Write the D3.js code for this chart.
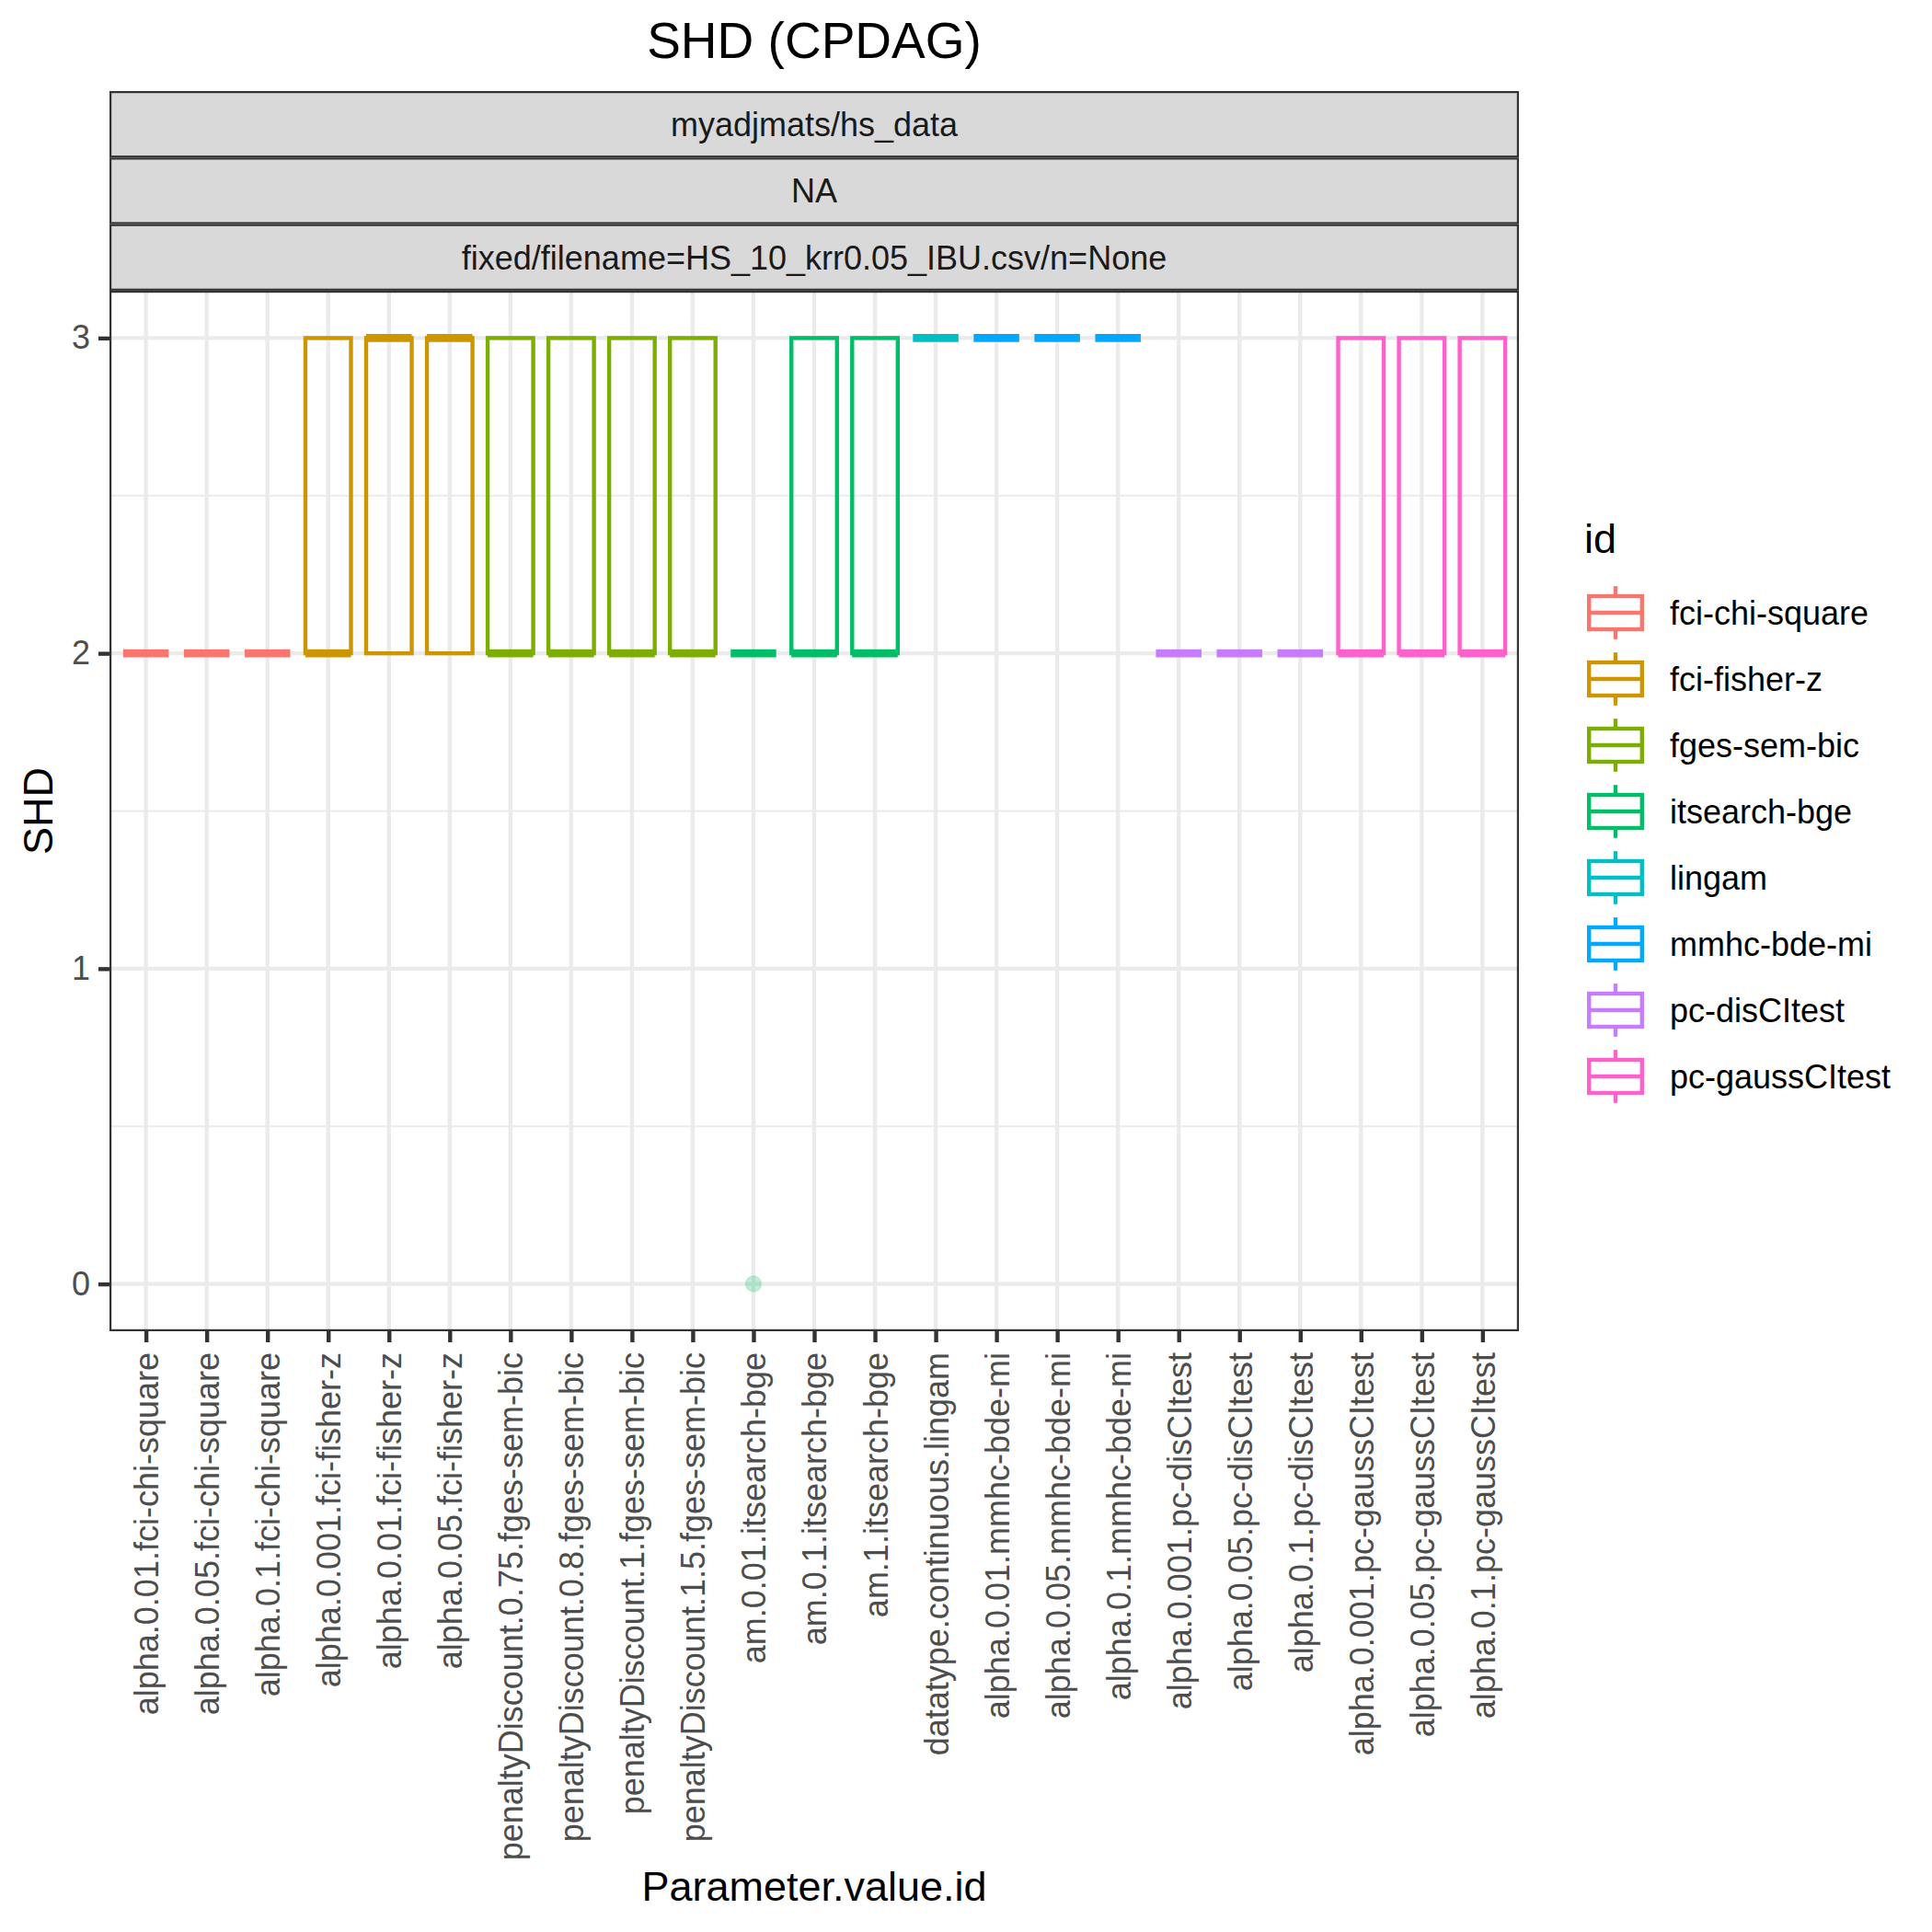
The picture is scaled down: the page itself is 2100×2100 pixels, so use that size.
<!DOCTYPE html>
<html>
<head>
<meta charset="utf-8">
<script src="https://cdn.jsdelivr.net/npm/d3@7/dist/d3.min.js"></script>
<style>
  html, body { margin: 0; padding: 0; background: #fff; }
  text { font-family: "Liberation Sans", Arial, Helvetica, sans-serif; }
</style>
</head>
<body>
<script>
// data
var params = [
  "alpha.0.01.fci-chi-square", "alpha.0.05.fci-chi-square", "alpha.0.1.fci-chi-square",
  "alpha.0.001.fci-fisher-z", "alpha.0.01.fci-fisher-z", "alpha.0.05.fci-fisher-z",
  "penaltyDiscount.0.75.fges-sem-bic", "penaltyDiscount.0.8.fges-sem-bic",
  "penaltyDiscount.1.fges-sem-bic", "penaltyDiscount.1.5.fges-sem-bic",
  "am.0.01.itsearch-bge", "am.0.1.itsearch-bge", "am.1.itsearch-bge",
  "datatype.continuous.lingam",
  "alpha.0.01.mmhc-bde-mi", "alpha.0.05.mmhc-bde-mi", "alpha.0.1.mmhc-bde-mi",
  "alpha.0.001.pc-disCItest", "alpha.0.05.pc-disCItest", "alpha.0.1.pc-disCItest",
  "alpha.0.001.pc-gaussCItest", "alpha.0.05.pc-gaussCItest", "alpha.0.1.pc-gaussCItest"
];
var paramId = [
  "fci-chi-square", "fci-chi-square", "fci-chi-square",
  "fci-fisher-z", "fci-fisher-z", "fci-fisher-z",
  "fges-sem-bic", "fges-sem-bic", "fges-sem-bic", "fges-sem-bic",
  "itsearch-bge", "itsearch-bge", "itsearch-bge",
  "lingam",
  "mmhc-bde-mi", "mmhc-bde-mi", "mmhc-bde-mi",
  "pc-disCItest", "pc-disCItest", "pc-disCItest",
  "pc-gaussCItest", "pc-gaussCItest", "pc-gaussCItest"
];
var lower  = [2,2,2, 2,2,2, 2,2,2,2, 2,2,2, 3, 3,3,3, 2,2,2, 2,2,2];
var q1     = [2,2,2, 2,2,2, 2,2,2,2, 2,2,2, 3, 3,3,3, 2,2,2, 2,2,2];
var median = [2,2,2, 2,3,3, 2,2,2,2, 2,2,2, 3, 3,3,3, 2,2,2, 2,2,2];
var q3     = [2,2,2, 3,3,3, 3,3,3,3, 2,3,3, 3, 3,3,3, 2,2,2, 3,3,3];
var upper  = [2,2,2, 3,3,3, 3,3,3,3, 2,3,3, 3, 3,3,3, 2,2,2, 3,3,3];
var outlierParam = ["am.0.01.itsearch-bge"];
var outlierValue = [0];

var ids = ["fci-chi-square", "fci-fisher-z", "fges-sem-bic", "itsearch-bge",
           "lingam", "mmhc-bde-mi", "pc-disCItest", "pc-gaussCItest"];
var idColors = ["#F8766D", "#CD9600", "#7CAE00", "#00BE67",
                "#00BFC4", "#00A9FF", "#C77CFF", "#FF61CC"];
var yTicks = [0, 1, 2, 3];
var yMinor = [0.5, 1.5, 2.5];
var strips = ["myadjmats/hs_data", "NA", "fixed/filename=HS_10_krr0.05_IBU.csv/n=None"];

var W = 2100, H = 2100;
var panel = {left: 119, right: 1651, top: 316, bottom: 1447};
var stripTop = 99, stripH = 72.3;
var lw = 4.4;      // ggplot linewidth 0.5 at 300 dpi
var grid = "#EBEBEB", dark = "#333333";

var svg = d3.select("body").append("svg")
    .attr("width", W).attr("height", H);
svg.append("rect").attr("width", W).attr("height", H).attr("fill", "#fff");

var color = d3.scaleOrdinal().domain(ids).range(idColors);

var x = d3.scalePoint().domain(params)
    .range([panel.left, panel.right]).padding(0.6);
var yMin = d3.min(outlierValue.concat(lower)), yMax = d3.max(upper);
var pad = (yMax - yMin) * 0.05;
var y = d3.scaleLinear().domain([yMin - pad, yMax + pad])
    .range([panel.bottom, panel.top]);
var boxW = x.step() * 0.75;

// title
svg.append("text")
    .attr("x", (panel.left + panel.right) / 2).attr("y", 63)
    .attr("text-anchor", "middle")
    .attr("font-size", 55).attr("fill", "#000")
    .text("SHD (CPDAG)");

// strips
strips.forEach(function (s, i) {
  var top = stripTop + i * stripH;
  svg.append("rect")
      .attr("x", panel.left + 1.1).attr("y", top + 1.1)
      .attr("width", panel.right - panel.left - 2.2).attr("height", stripH - 2.2)
      .attr("fill", "#D9D9D9").attr("stroke", dark).attr("stroke-width", 2.2);
  svg.append("text")
      .attr("x", (panel.left + panel.right) / 2).attr("y", top + stripH / 2)
      .attr("dy", "0.36em")
      .attr("text-anchor", "middle")
      .attr("font-size", 36).attr("fill", "#1A1A1A")
      .text(s);
});

// panel grid
var g = svg.append("g");
g.selectAll(".minor").data(yMinor).enter().append("line")
    .attr("x1", panel.left).attr("x2", panel.right)
    .attr("y1", d => y(d)).attr("y2", d => y(d))
    .attr("stroke", grid).attr("stroke-width", lw / 2);
g.selectAll(".majory").data(yTicks).enter().append("line")
    .attr("x1", panel.left).attr("x2", panel.right)
    .attr("y1", d => y(d)).attr("y2", d => y(d))
    .attr("stroke", grid).attr("stroke-width", lw);
g.selectAll(".majorx").data(params).enter().append("line")
    .attr("x1", d => x(d)).attr("x2", d => x(d))
    .attr("y1", panel.top).attr("y2", panel.bottom)
    .attr("stroke", grid).attr("stroke-width", lw);

// boxes
var rows = params.map(function (p, i) {
  return {p: p, id: paramId[i], lo: lower[i], q1: q1[i], med: median[i], q3: q3[i], hi: upper[i]};
});
var bx = svg.append("g").selectAll("g").data(rows).enter().append("g")
    .attr("stroke", d => color(d.id)).attr("fill", "none");
bx.append("line")
    .attr("x1", d => x(d.p)).attr("x2", d => x(d.p))
    .attr("y1", d => y(d.hi)).attr("y2", d => y(d.q3))
    .attr("stroke-width", lw);
bx.append("line")
    .attr("x1", d => x(d.p)).attr("x2", d => x(d.p))
    .attr("y1", d => y(d.q1)).attr("y2", d => y(d.lo))
    .attr("stroke-width", lw);
bx.append("rect")
    .attr("x", d => x(d.p) - boxW / 2).attr("width", boxW)
    .attr("y", d => y(d.q3)).attr("height", d => y(d.q1) - y(d.q3))
    .attr("stroke-width", lw).attr("stroke-linejoin", "miter");
bx.append("line")
    .attr("x1", d => x(d.p) - boxW / 2).attr("x2", d => x(d.p) + boxW / 2)
    .attr("y1", d => y(d.med)).attr("y2", d => y(d.med))
    .attr("stroke-width", lw * 2);

// outliers
svg.append("g").selectAll("circle").data(outlierParam).enter().append("circle")
    .attr("cx", d => x(d)).attr("cy", (d, i) => y(outlierValue[i]))
    .attr("r", 8.5)
    .attr("fill", d => color(paramId[params.indexOf(d)]))
    .attr("fill-opacity", 0.25)
    .attr("stroke", d => color(paramId[params.indexOf(d)]))
    .attr("stroke-opacity", 0.15).attr("stroke-width", 1.5);

// panel border
svg.append("rect")
    .attr("x", panel.left + 1.1).attr("y", panel.top + 1.1)
    .attr("width", panel.right - panel.left - 2.2).attr("height", panel.bottom - panel.top - 2.2)
    .attr("fill", "none").attr("stroke", dark).attr("stroke-width", 2.2);

// axes
var yAxis = svg.append("g")
    .attr("transform", "translate(" + panel.left + ",0)")
    .call(d3.axisLeft(y).tickValues(yTicks).tickSize(12).tickPadding(9).tickFormat(d3.format("d")));
yAxis.select(".domain").remove();
yAxis.selectAll("line").attr("stroke", dark).attr("stroke-width", lw);
yAxis.selectAll("text").attr("font-size", 36).attr("fill", "#4D4D4D")
    .attr("font-family", "Liberation Sans, Arial, sans-serif");

var xAxis = svg.append("g")
    .attr("transform", "translate(0," + panel.bottom + ")")
    .call(d3.axisBottom(x).tickSize(12).tickPadding(9));
xAxis.select(".domain").remove();
xAxis.selectAll("line").attr("stroke", dark).attr("stroke-width", lw);
xAxis.selectAll("text")
    .attr("font-size", 36).attr("fill", "#4D4D4D")
    .attr("font-family", "Liberation Sans, Arial, sans-serif")
    .attr("transform", "rotate(-90)")
    .attr("x", -23).attr("y", 0).attr("dy", "0.36em")
    .attr("text-anchor", "end");

// axis titles
svg.append("text")
    .attr("x", (panel.left + panel.right) / 2).attr("y", 2066)
    .attr("text-anchor", "middle").attr("font-size", 45).attr("fill", "#000")
    .text("Parameter.value.id");
svg.append("text")
    .attr("transform", "translate(57," + (panel.top + panel.bottom) / 2 + ") rotate(-90)")
    .attr("text-anchor", "middle").attr("font-size", 45).attr("fill", "#000")
    .text("SHD");

// legend
var leg = svg.append("g");
leg.append("text").attr("x", 1722).attr("y", 601)
    .attr("font-size", 45).attr("fill", "#000").text("id");
var keyX = 1720, keyS = 72, keyTop = 630;
var items = leg.selectAll(".key").data(ids).enter().append("g")
    .attr("transform", (d, i) => "translate(" + keyX + "," + (keyTop + i * keyS) + ")");
items.append("rect").attr("width", keyS).attr("height", keyS).attr("fill", "#fff");
items.append("line")
    .attr("x1", keyS / 2).attr("x2", keyS / 2).attr("y1", keyS * 0.1).attr("y2", keyS * 0.25)
    .attr("stroke", d => color(d)).attr("stroke-width", lw);
items.append("line")
    .attr("x1", keyS / 2).attr("x2", keyS / 2).attr("y1", keyS * 0.75).attr("y2", keyS * 0.9)
    .attr("stroke", d => color(d)).attr("stroke-width", lw);
items.append("rect")
    .attr("x", keyS * 0.1).attr("y", keyS * 0.25)
    .attr("width", keyS * 0.8).attr("height", keyS * 0.5)
    .attr("fill", "#fff").attr("stroke", d => color(d)).attr("stroke-width", lw);
items.append("line")
    .attr("x1", keyS * 0.1).attr("x2", keyS * 0.9).attr("y1", keyS / 2).attr("y2", keyS / 2)
    .attr("stroke", d => color(d)).attr("stroke-width", lw);
items.append("text")
    .attr("x", 95).attr("y", keyS / 2).attr("dy", "0.36em")
    .attr("font-size", 36).attr("fill", "#000")
    .text(d => d);
</script>
</body>
</html>
